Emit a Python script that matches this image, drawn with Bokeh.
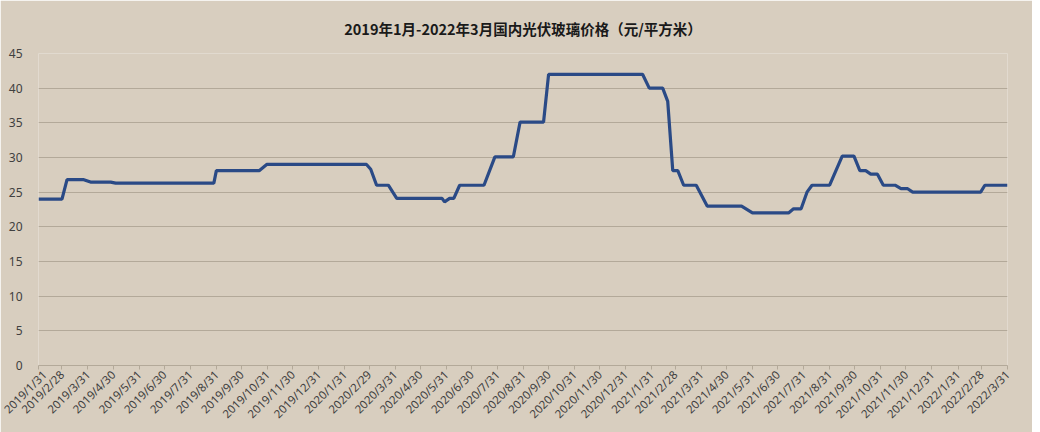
from datetime import datetime
from bokeh.plotting import figure
from bokeh.models import FixedTicker, CustomJSTickFormatter, Range1d
from bokeh.embed import file_html
from bokeh.resources import INLINE

title_text = "2019年1月-2022年3月国内光伏玻璃价格（元/平方米）"

dates = [
    "2019-01-31", "2019-02-28", "2019-03-06", "2019-03-26", "2019-04-03", "2019-04-27",
    "2019-05-03", "2019-08-28", "2019-08-31", "2019-10-21", "2019-10-30", "2020-02-26",
    "2020-03-02", "2020-03-09", "2020-03-23", "2020-04-02", "2020-05-26", "2020-05-29",
    "2020-06-04", "2020-06-09", "2020-06-16", "2020-07-15", "2020-07-28", "2020-08-19",
    "2020-08-27", "2020-09-24", "2020-09-30", "2021-01-20", "2021-01-28", "2021-02-13",
    "2021-02-19", "2021-02-25", "2021-03-03", "2021-03-10", "2021-03-25", "2021-04-07",
    "2021-05-18", "2021-05-31", "2021-07-13", "2021-07-19", "2021-07-28", "2021-08-04",
    "2021-08-10", "2021-08-31", "2021-09-15", "2021-09-29", "2021-10-06", "2021-10-13",
    "2021-10-19", "2021-10-27", "2021-11-03", "2021-11-17", "2021-11-24", "2021-12-02",
    "2021-12-08", "2022-02-27", "2022-03-04", "2022-03-31",
]
prices = [
    24.0, 24.0, 26.8, 26.8, 26.45, 26.45,
    26.3, 26.3, 28.1, 28.1, 29.0, 29.0,
    28.3, 26.0, 26.0, 24.1, 24.1, 23.6,
    24.1, 24.1, 26.0, 26.0, 30.1, 30.1,
    35.1, 35.1, 42.0, 42.0, 40.0, 40.0,
    38.1, 28.1, 28.1, 26.0, 26.0, 23.0,
    23.0, 22.0, 22.0, 22.6, 22.6, 25.0,
    26.0, 26.0, 30.2, 30.2, 28.1, 28.1,
    27.6, 27.6, 26.0, 26.0, 25.5, 25.5,
    25.0, 25.0, 26.0, 26.0,
]
tick_dates = [
    "2019-01-31", "2019-02-28", "2019-03-31", "2019-04-30", "2019-05-31", "2019-06-30",
    "2019-07-31", "2019-08-31", "2019-09-30", "2019-10-31", "2019-11-30", "2019-12-31",
    "2020-01-31", "2020-02-29", "2020-03-31", "2020-04-30", "2020-05-31", "2020-06-30",
    "2020-07-31", "2020-08-31", "2020-09-30", "2020-10-31", "2020-11-30", "2020-12-31",
    "2021-01-31", "2021-02-28", "2021-03-31", "2021-04-30", "2021-05-31", "2021-06-30",
    "2021-07-31", "2021-08-31", "2021-09-30", "2021-10-31", "2021-11-30", "2021-12-31",
    "2022-01-31", "2022-02-28", "2022-03-31",
]
y_ticks = [0, 5, 10, 15, 20, 25, 30, 35, 40, 45]

BG = "#D8CEBF"
LINE = "#2A4A86"
GRID = "#B3A999"
TXT = "#404040"

x = [datetime.strptime(d, "%Y-%m-%d") for d in dates]
tick_dt = [datetime.strptime(d, "%Y-%m-%d") for d in tick_dates]
epoch = datetime(1970, 1, 1)
tick_ms = [(d - epoch).total_seconds() * 1000.0 for d in tick_dt]

p = figure(width=1032, height=432, output_backend="svg", toolbar_location=None,
           x_axis_type="datetime",
           x_range=Range1d(tick_dt[0], tick_dt[-1]),
           y_range=Range1d(0, 45),
           min_border_left=38, min_border_right=25, min_border_top=52, min_border_bottom=67)

p.title.text = title_text
p.title.align = "center"
p.title.offset = -17
p.title.standoff = 30
p.title.text_font = "Noto Sans CJK SC"
p.title.text_font_size = "14.5px"
p.title.text_font_style = "bold"
p.title.text_color = "#1a1a1a"

p.background_fill_color = BG
p.border_fill_color = BG
p.outline_line_color = None

p.line(x, prices, line_color=LINE, line_width=3.2)

p.xaxis.ticker = FixedTicker(ticks=tick_ms)
p.xaxis.formatter = CustomJSTickFormatter(code="""
const d = new Date(tick);
return d.getUTCFullYear() + "/" + (d.getUTCMonth() + 1) + "/" + d.getUTCDate();
""")
p.xaxis.major_label_orientation = 0.785398
p.xaxis.axis_line_color = GRID
p.xaxis.major_tick_line_color = GRID
p.xaxis.major_tick_in = 0
p.xaxis.major_tick_out = 4
p.xaxis.minor_tick_line_color = None
p.xaxis.major_label_text_font = "Noto Sans"
p.xaxis.major_label_text_font_size = "11.5px"
p.xaxis.major_label_text_color = TXT
p.xaxis.major_label_standoff = 3

p.yaxis.ticker = FixedTicker(ticks=y_ticks)
p.yaxis.axis_line_color = None
p.yaxis.major_tick_line_color = None
p.yaxis.minor_tick_line_color = None
p.yaxis.major_label_text_font = "Noto Sans"
p.yaxis.major_label_text_font_size = "12px"
p.yaxis.major_label_text_color = TXT
p.yaxis.major_label_standoff = 10

p.xgrid.grid_line_color = None
p.ygrid.grid_line_color = GRID
p.ygrid.grid_line_width = 1

open("out.html", "w").write(file_html(p, INLINE))
